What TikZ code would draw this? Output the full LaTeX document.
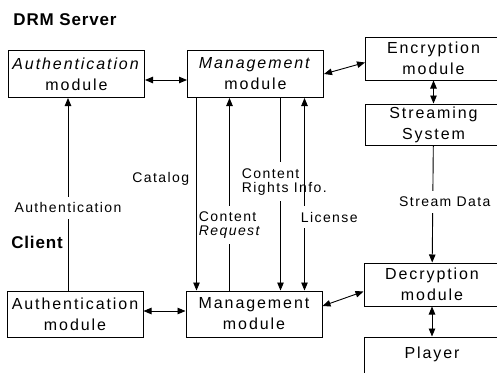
\documentclass[tikz,border=0pt]{standalone}
\usepackage{fontspec}
\setmainfont{Liberation Sans}
\newfontfamily\modfont{Liberation Sans}[LetterSpace=12]
\newfontfamily\tagfont{Liberation Sans}[LetterSpace=10]
\newfontfamily\headfont{Liberation Sans}[LetterSpace=5]
\usetikzlibrary{arrows.meta,positioning}
\tikzset{
  mod/.style={rectangle,draw=black,line width=1pt,minimum width=136pt,
    minimum height=#1,inner sep=0pt,align=center,
    font=\modfont\fontsize{16}{21}\selectfont},
  mod/.default={47pt},
  head/.style={font=\headfont\bfseries\fontsize{17}{20}\selectfont,inner sep=0pt},
  tag/.style={font=\tagfont\fontsize{14}{14}\selectfont,inner sep=1pt},
  gap/.style={tag,fill=white,inner ysep=6pt},
  arr/.style={->,line width=0.9pt},
  dbl/.style={<->,line width=0.9pt},
}

\begin{document}
\begin{tikzpicture}[x=1pt,y=-1pt,>={Triangle[length=8pt,width=6.5pt]}]
  \useasboundingbox (0,0) rectangle (497,372);
  % server side
  \node[head] (srv) at (65,20) {DRM Server};
  \node[mod] (sauth) at (76.5,74) {\textit{Authentication}\\module};
  \node[mod,right=42pt of sauth] (smgmt) {\textit{Management}\\module};
  \node[mod=43pt,right=41pt of smgmt,yshift=15.5pt] (enc) {Encryption\\module};
  \node[mod=41pt,below=23pt of enc] (strm) {Streaming\\System};
  % client side
  \node[head] (cli) at (37,242) {Client};
  \node[mod=46pt] (cauth) at (75,314) {Authentication\\module};
  \node[mod=46pt,right=42pt of cauth] (cmgmt) {Management\\module};
  \node[mod=43pt,right=41pt of cmgmt,yshift=29.5pt] (dec) {Decryption\\module};
  \node[mod=43pt,below=30pt of dec,text depth=12.5pt] (player) {Player};

  % links inside each side
  \draw[dbl] ([yshift=-6pt]sauth.east) -- ([yshift=-6pt]smgmt.west);
  \draw[dbl] (smgmt.east) -- ([yshift=-4pt]enc.west);
  \draw[dbl] (enc) -- (strm);
  \draw[dbl] ([yshift=3pt]cauth.east) -- ([yshift=3pt]cmgmt.west);
  \draw[dbl] ([yshift=8pt]cmgmt.east) -- ([yshift=-7pt]dec.west);
  \draw[dbl] (dec) -- (player);
  \draw[arr] (strm) -- (dec) node[gap,pos=0.48,anchor=west,xshift=-35pt] {Stream Data};

  % server <-> client
  \draw[arr] ([xshift=-7pt]cauth.north) -- ([xshift=-7pt]cauth.north |- sauth.south)
    node[gap,pos=0.43] {Authentication};
  \draw[arr] ([xshift=-59pt]smgmt.south) -- ([xshift=-59pt]smgmt.south |- cmgmt.north)
    node[tag,pos=0.42,left=6pt] {Catalog};
  \draw[arr] ([xshift=-26pt]smgmt.south |- cmgmt.north) -- ([xshift=-26pt]smgmt.south)
    node[gap,align=left,pos=0.34,anchor=west,xshift=-32pt] {Content\\\textit{Request}};
  \draw[arr] ([xshift=25pt]smgmt.south) -- ([xshift=25pt]smgmt.south |- cmgmt.north)
    node[gap,align=left,pos=0.435,anchor=west,xshift=-40pt] {Content\\Rights Info.};
  \draw[dbl] ([xshift=49pt]smgmt.south) -- ([xshift=49pt]smgmt.south |- cmgmt.north)
    node[gap,pos=0.62,anchor=west,xshift=-5pt] {License};
\end{tikzpicture}
\end{document}
